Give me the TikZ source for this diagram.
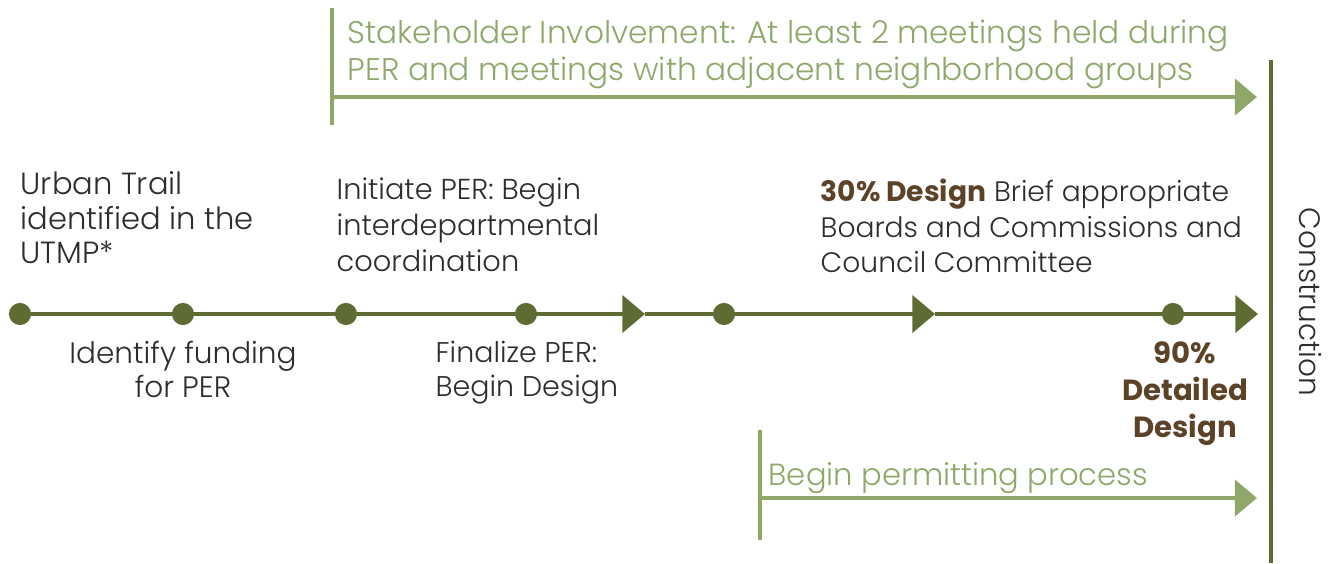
\documentclass[tikz,border=0pt]{standalone}
\usepackage{fontspec}
\IfFontExistsTF{Poppins Light}{\setmainfont{Poppins Light}[BoldFont=Poppins Bold]}{\setmainfont{Poppins}}
\usepackage{tikz}
\usetikzlibrary{arrows.meta}

\definecolor{olive}{RGB}{94,108,52}
\definecolor{sage}{RGB}{143,168,106}
\definecolor{bark}{RGB}{92,67,40}
\definecolor{ink}{RGB}{45,45,45}

\tikzset{
  dot/.style={circle,fill=olive,minimum size=6.3pt,inner sep=0pt},
  tline/.style={olive,line width=1.4pt},
  tarrow/.style={tline,-{Triangle[length=6.4pt,width=10.4pt]}},
  sline/.style={sage,line width=1.4pt},
  sarrow/.style={sline,-{Triangle[length=6.3pt,width=10.2pt]}},
  txt/.style={inner sep=0pt,text=ink,font=\fontsize{8.4}{9.9}\selectfont},
}

\begin{document}
\begin{tikzpicture}[x=0.01cm,y=-0.01cm]
\useasboundingbox (0,0) rectangle (1329,563);
\coordinate (a1) at (645,314);\coordinate (a2) at (935,314);\coordinate (a3) at (1258,314);
\draw[tarrow] (20,314) -- (a1);\draw[tarrow] (a1) -- (a2);\draw[tarrow] (a2) -- (a3);
\node[dot] (d1) at (20,314) {};\node[dot] (d2) at (183,314) {};\node[dot] (d3) at (346,314) {};
\node[dot] (d4) at (526,314) {};\node[dot] (d5) at (724,314) {};\node[dot] (d6) at (1173,314) {};

\coordinate (s0) at (332,8);\coordinate (s1) at (332,125);
\coordinate (s2) at (332,97);\coordinate (s3) at (1257,97);
\draw[sline] (s0) -- (s1);\draw[sarrow] (s2) -- (s3);
\coordinate (p0) at (760,430);\coordinate (p1) at (760,540);
\coordinate (p2) at (760,498);\coordinate (p3) at (1257,498);
\draw[sline] (p0) -- (p1);\draw[sarrow] (p2) -- (p3);

\coordinate (c0) at (1271,60);\coordinate (c1) at (1271,563);
\draw[olive,line width=1.2pt] (c0) -- (c1);

\node[txt,text=sage,anchor=north west,font=\fontsize{8.9}{10.5}\selectfont,align=left] (stake) at (347,19) {Stakeholder Involvement: At least 2 meetings held during\\PER and meetings with adjacent neighborhood groups};
\node[txt,text=sage,anchor=north west,font=\fontsize{8.7}{10.5}\selectfont] (permit) at (768,462) {Begin permitting process};
\node[txt,anchor=north west,align=left,font=\fontsize{8.7}{9.8}\selectfont] (urban) at (20,171) {Urban Trail\\identified in the\\UTMP*};
\node[txt,anchor=north west,align=left,font=\fontsize{8.2}{10.2}\selectfont] (initiate) at (336,177) {Initiate PER: Begin\\interdepartmental\\coordination};
\node[txt,anchor=north west,align=left,font=\fontsize{8.0}{10.2}\selectfont] (thirty) at (820,178) {\textcolor{bark}{\textbf{30\% Design}} Brief appropriate\\Boards and Commissions and\\Council Committee};
\node[txt,anchor=north,align=center] (identify) at (183,340) {Identify funding\\for PER};
\node[txt,anchor=north west,align=left,font=\fontsize{8.1}{9.9}\selectfont] (finalize) at (435,340) {Finalize PER:\\Begin Design};
\node[txt,anchor=north,align=center,text=bark,font=\fontsize{8.3}{10.5}\selectfont\bfseries] (ninety) at (1185,341) {90\%\\Detailed\\Design};
\node[txt,rotate=-90] (constr) at (1310,302) {Construction};
\end{tikzpicture}
\end{document}
